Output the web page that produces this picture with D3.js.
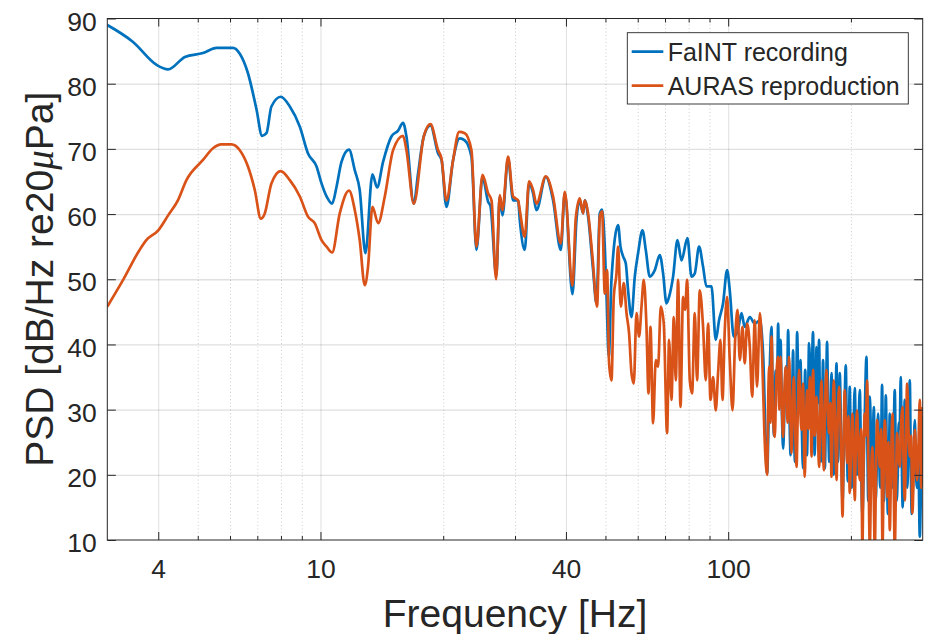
<!DOCTYPE html>
<html>
<head>
<meta charset="utf-8">
<script src="https://cdn.jsdelivr.net/npm/d3@7"></script>
<style>
  body { margin: 0; background: #fff; }
  text { font-family: "Liberation Sans", Arial, sans-serif; fill: #262626; }
</style>
</head>
<body>
<svg id="chart" width="928" height="634"></svg>
<script>
// FaINT recording (blue), below ~122 Hz
const faintHzLow = [
  3.00, 3.47, 3.96, 4.23, 4.65, 5.15, 5.56, 6.10, 6.34, 6.64, 6.97, 7.19, 7.37, 7.58, 7.99, 8.41, 8.90, 9.32, 9.78,
  10.06, 10.35, 10.68, 10.95, 11.26, 11.75, 12.14, 12.48, 12.89, 13.41, 13.77, 14.24, 14.93, 15.50, 15.94, 16.25,
  16.94, 17.35, 17.92, 18.61, 19.43, 19.81, 20.37, 21.15, 21.96, 22.59, 23.46, 24.13, 24.97, 25.77, 26.12, 26.99,
  27.53, 27.95, 28.85, 29.68, 30.53, 30.82, 31.70, 32.48, 33.22, 33.87, 35.70, 37.20, 38.85, 39.74, 41.51, 42.45,
  43.25, 44.07, 44.49, 45.33, 46.63, 47.53, 48.43, 49.06, 49.81, 50.29, 50.95, 51.73, 53.70, 54.43, 55.24, 56.09,
  56.82, 57.92, 59.01, 60.12, 61.63, 62.79, 64.23, 66.07, 67.96, 69.24, 70.58, 71.62, 73.26, 75.10, 76.82, 79.46,
  81.28, 82.81, 84.84, 86.78, 88.46, 91.00, 93.23, 94.98, 97.15, 99.38, 100.9, 103.2, 105.7, 107.8, 109.8, 113.0,
  116.2, 119.6, 121.8
]
const faintDbLow = [
  89.0, 86.4, 82.9, 82.2, 84.1, 84.7, 85.5, 85.5, 84.6, 81.6, 76.0, 72.0, 72.4, 76.5, 78.0, 76.5, 73.4, 69.3, 67.3,
  64.7, 62.7, 61.6, 64.2, 68.0, 69.9, 66.7, 63.7, 54.0, 66.1, 64.1, 68.0, 71.9, 72.8, 74.0, 71.9,
  61.6, 66.2, 71.9, 73.6, 69.3, 68.3, 61.1, 68.3, 71.6, 71.3, 68.8, 54.5, 65.7, 61.9, 61.2, 50.5,
  62.7, 59.8, 68.5, 62.1, 62.1, 59.1, 54.5, 64.7, 63.2, 60.6, 65.7, 62.1, 54.5, 63.2, 47.7, 59.1,
  62.1, 60.1, 62.1, 59.6, 51.4, 46.3, 60.1, 60.7, 55.0, 47.8, 38.1, 49.9, 58.3, 55.0, 53.5, 52.4,
  48.3, 44.2, 50.4, 54.0, 57.5, 54.5, 50.4, 51.4, 53.7, 50.9, 46.3, 47.3, 50.4, 56.0, 52.9, 56.3,
  50.4, 50.9, 55.0, 51.9, 48.9, 48.9, 40.7, 43.7, 46.3, 51.4, 48.3, 41.2, 42.2, 44.8, 42.7, 44.2,
  43.2, 43.7, 38.6
]
// FaINT recording (blue), ~125 Hz and up
const faintHzHigh = [
  124.6, 125.8, 126.7, 127.7, 128.6, 129.6, 130.8, 131.8, 132.6, 133.5,
  134.4, 135.4, 136.4, 137.4, 138.5, 139.4, 140.3, 141.3, 142.3, 143.3,
  144.3, 145.0, 145.9, 146.8, 147.6, 149.0, 150.4, 151.5, 152.6, 153.6,
  154.5, 155.3, 156.0, 157.0, 157.9, 159.6, 161.5, 162.3, 163.0, 163.8,
  164.7, 165.9, 167.1, 168.0, 169.0, 170.0, 170.9, 171.7, 172.6, 173.7,
  174.8, 175.9, 177.0, 178.1, 179.2, 180.4, 181.6, 183.0, 184.4, 185.2,
  186.0, 186.9, 187.8, 189.3, 190.8, 192.5, 194.3, 195.4, 196.6, 197.6,
  198.7, 199.8, 201.0, 202.7, 204.4, 205.7, 207.0, 208.6, 210.3, 211.8,
  213.4, 215.9, 218.4, 219.5, 220.6, 221.5, 222.5, 224.0, 225.5, 226.5,
  227.6, 228.8, 230.0, 231.6, 233.2, 234.6, 236.0, 237.2, 238.5, 239.7,
  241.0, 242.3, 243.6, 245.0, 246.5, 247.8, 249.1, 250.8, 252.5, 254.3,
  256.2, 257.6, 259.0, 260.5, 262.0, 263.5, 265.0, 266.5, 268.0, 269.5,
  271.1, 273.0, 275.0, 277.0, 278.9, 280.5, 282.0, 284.5, 286.9, 288.7,
  290.6, 292.8, 295.1, 297.5, 300.0
]
const faintDbHigh = [
  20.2, 30, 38, 42.7, 32, 26, 36, 34, 43.2, 33,
  40.7, 30, 24, 30, 36.6, 33, 42.2, 30, 23, 29,
  39.1, 28, 22, 30, 41.9, 31, 37.6, 28, 21, 28,
  36.1, 28, 23, 31, 40.2, 31, 41.9, 30, 23, 30,
  39.6, 31, 40.7, 29, 22, 29, 37.6, 28, 21, 30,
  40.4, 29, 22, 28, 35.6, 26, 20, 28, 37.1, 27,
  22, 27, 35.6, 25, 16, 27, 36.8, 26, 19, 25,
  33.5, 24, 18, 25, 33.3, 25, 20, 26, 33, 22,
  14, 27, 38.1, 25, 16, 23, 32, 26, 20, 25,
  30.4, 22, 16, 22, 29.4, 23, 18, 24, 33.8, 23,
  16, 23, 32.2, 22, 14, 20, 29.4, 22, 18, 24,
  33, 23, 16, 20, 28, 27, 35, 23, 15, 22,
  31.5, 23, 18, 25, 34.5, 22, 14, 20, 28.4, 21,
  18, 22, 10.5, 20, 29
]

// AURAS reproduction (orange), below ~123 Hz
const aurasHzLow = [
  3.00, 3.28, 3.60, 3.74, 4.00, 4.23, 4.47, 4.69, 5.15, 5.45, 5.71, 6.05, 6.34, 6.64, 6.90, 7.14, 7.30, 7.58, 7.99,
  8.41, 8.90, 9.32, 9.68, 10.06, 10.35, 10.68, 11.15, 11.75, 12.14, 12.48, 12.84, 13.08, 13.41, 13.85, 14.38,
  15.07, 15.94, 16.25, 16.94, 17.92, 18.61, 19.43, 19.81, 20.37, 21.15, 21.88, 22.59, 23.46, 24.13, 24.97, 25.77,
  26.27, 26.96, 27.53, 27.95, 28.85, 29.68, 30.53, 30.82, 31.70, 32.48, 33.22, 33.87, 35.70, 37.20, 38.85, 39.74,
  41.51, 42.28, 43.25, 44.07, 44.49, 45.33, 46.46, 47.69, 48.43, 49.06, 49.81, 50.46, 51.04, 51.73, 52.41, 53.22,
  53.70, 54.52, 55.46, 56.31, 57.14, 57.92, 58.68, 59.58, 60.46, 61.29, 62.09, 63.04, 63.76, 64.48, 65.43, 66.44,
  67.31, 68.34, 69.51, 70.82, 71.62, 72.60, 73.55, 74.38, 75.36, 76.39, 77.51, 78.40, 79.29, 80.51, 81.56, 82.81,
  83.89, 85.18, 86.78, 88.11, 89.27, 90.49, 91.83, 93.23, 94.45, 95.74, 96.83, 98.10, 99.38, 100.9, 102.5, 104.0,
  105.4, 106.8, 108.4, 109.8, 111.3, 113.0, 114.5, 116.2, 117.7, 119.6, 121.1, 122.7
]
const aurasDbLow = [
  45.8, 49.9, 54.5, 56.0, 57.5, 59.8, 62.1, 65.2, 68.3, 70.1, 70.7, 70.7, 69.8, 67.3, 63.7, 59.3, 60.1, 64.7, 66.6,
  65.2, 62.7, 59.6, 58.6, 56.0, 55.0, 54.1, 60.1, 63.6, 60.6, 56.0, 49.1, 51.9, 61.1, 58.6, 62.7,
  69.8, 72.0, 69.8, 61.6, 71.9, 73.8, 69.8, 68.5, 62.1, 68.3, 72.6, 72.4, 69.8, 55.0, 66.0, 63.2,
  62.1, 50.0, 62.9, 60.6, 68.8, 62.7, 62.1, 60.6, 56.5, 65.0, 63.7, 61.6, 65.8, 62.7, 55.5, 63.4,
  49.0, 59.3, 62.4, 60.1, 62.1, 60.1, 53.5, 45.8, 59.6, 60.4, 47.8, 51.4, 37.1, 34.5, 47.3, 50.9,
  55.0, 45.8, 49.4, 44.8, 41.7, 35.6, 34.0, 44.8, 41.2, 45.8, 49.9, 42.7, 32.5, 42.7, 27.9, 37.6,
  36.6, 45.8, 43.2, 26.4, 40.7, 31.5, 44.2, 34.5, 49.9, 30.4, 47.3, 45.3, 49.9, 34.5, 32.5, 44.8,
  34.5, 48.3, 42.7, 34.5, 43.2, 31.5, 35.0, 29.9, 35.6, 40.7, 31.5, 42.2, 47.3, 37.6, 29.9, 40.7,
  45.3, 37.6, 42.7, 37.1, 43.2, 39.6, 32.0, 43.7, 33.5, 44.8, 38.6, 26.4
]
// AURAS reproduction (orange), ~125 Hz and up
const aurasHzHigh = [
  124.6, 125.5, 126.1, 127.0, 127.7, 128.8, 130.1, 131.3, 132.6, 133.4,
  134.4, 135.4, 136.4, 137.4, 138.5, 139.8, 141.1, 142.0, 143.0, 144.0,
  144.9, 146.0, 147.1, 148.2, 149.3, 150.3, 151.3, 152.6, 154.1, 155.2,
  156.2, 157.4, 158.6, 159.4, 160.1, 160.8, 161.5, 163.0, 164.7, 165.9,
  167.1, 168.3, 169.4, 170.5, 171.6, 172.9, 174.2, 175.5, 176.8, 178.0,
  179.2, 180.4, 181.6, 183.0, 184.4, 185.7, 187.1, 189.0, 190.8, 192.0,
  193.2, 194.5, 195.8, 197.2, 198.7, 200.2, 201.7, 203.0, 204.4, 205.7,
  207.0, 208.6, 210.3, 211.8, 213.4, 214.8, 216.2, 217.6, 219.1, 220.8,
  222.5, 224.2, 225.9, 227.4, 228.9, 230.4, 231.9, 233.7, 235.5, 237.3,
  239.1, 240.6, 242.2, 243.8, 245.4, 247.2, 249.1, 251.0, 252.9, 254.5,
  256.2, 257.9, 259.6, 261.6, 263.6, 265.6, 267.6, 269.3, 271.1, 272.9,
  274.7, 276.8, 278.9, 281.0, 283.1, 285.0, 286.9, 288.7, 290.6, 292.8,
  295.1, 297.5, 300.0
]
const aurasDbHigh = [
  20.0, 33, 36.6, 28, 41.2, 30, 25.8, 35, 38.1, 30,
  38.1, 31, 25.8, 33, 36.6, 28, 38.1, 30, 23.3, 31,
  35.0, 27, 21.2, 30, 36.1, 30, 26.9, 34, 19.7, 28,
  33.0, 27, 35.0, 29, 22.8, 31, 36.1, 26, 32.0, 27,
  21.2, 30, 34.5, 27, 20.7, 31, 36.1, 30, 26.4, 31,
  19.7, 28, 34.5, 27, 19.2, 29, 33.5, 25, 13.6, 26,
  33.0, 27, 21.8, 29, 17.2, 24, 29.4, 24, 16.1, 25,
  29.9, 24, 19.2, 27, 9.0, 22, 29.4, 26, 34.5, 22,
  9.0, 20, 24.3, 18, 8.5, 20, 28.4, 25, 21.2, 27,
  9.0, 20, 28.4, 24, 16.6, 25, 11.5, 22, 29.4, 20,
  8.5, 18, 26.4, 23, 21.2, 28, 30.4, 22, 16.1, 24,
  34.0, 27, 22.8, 26, 14.1, 20, 26.9, 24, 19.2, 24,
  31.5, 18, 30.4
]

const faintHz = faintHzLow.concat(faintHzHigh)
const faintDb = faintDbLow.concat(faintDbHigh)
const aurasHz = aurasHzLow.concat(aurasHzHigh)
const aurasDb = aurasDbLow.concat(aurasDbHigh)

const seriesNames = ['FaINT recording', 'AURAS reproduction']
const seriesColors = ['#0072BD', '#D95319']
const xMajor = [4, 10, 40, 100]
const xMinor = [5, 6, 7, 8, 9, 20, 30, 50, 60, 70, 80, 90, 200]
const yTicks = [10, 20, 30, 40, 50, 60, 70, 80, 90]

const width = 928
const height = 634
const margin = { top: 18.5, right: 5.3, bottom: 94, left: 107.3 }
const innerW = width - margin.left - margin.right
const innerH = height - margin.top - margin.bottom

const svg = d3.select('#chart')

const x = d3.scaleLog().domain([3, 300]).range([margin.left, width - margin.right])
const y = d3.scaleLinear().domain([10, 90]).range([height - margin.bottom, margin.top])

// grid
const gridMinor = svg.append('g')
  .attr('transform', 'translate(0,' + y(10) + ')')
  .call(d3.axisBottom(x).tickValues(xMinor).tickSize(-innerH).tickFormat(''))
gridMinor.select('.domain').remove()
gridMinor.selectAll('line')
  .attr('stroke', '#262626')
  .attr('stroke-opacity', 0.22)
  .attr('stroke-dasharray', '1,2.5')

const gridMajorX = svg.append('g')
  .attr('transform', 'translate(0,' + y(10) + ')')
  .call(d3.axisBottom(x).tickValues(xMajor).tickSize(-innerH).tickFormat(''))
gridMajorX.select('.domain').remove()
gridMajorX.selectAll('line').attr('stroke', '#262626').attr('stroke-opacity', 0.14)

const gridY = svg.append('g')
  .attr('transform', 'translate(' + x(3) + ',0)')
  .call(d3.axisLeft(y).tickValues(yTicks.slice(1, -1)).tickSize(-innerW).tickFormat(''))
gridY.select('.domain').remove()
gridY.selectAll('line').attr('stroke', '#262626').attr('stroke-opacity', 0.14).attr('stroke-width', 1.3)

// data lines
svg.append('clipPath').attr('id', 'plot-clip')
  .append('rect')
  .attr('x', margin.left).attr('y', margin.top)
  .attr('width', innerW).attr('height', innerH)

const line = d3.line()
  .x(d => x(d[0]))
  .y(d => y(d[1]))
  .curve(d3.curveMonotoneX)

const lines = svg.append('g').attr('clip-path', 'url(#plot-clip)')
lines.append('path')
  .datum(d3.zip(faintHz, faintDb))
  .attr('fill', 'none')
  .attr('stroke', seriesColors[0])
  .attr('stroke-width', 2.7)
  .attr('stroke-linejoin', 'round')
  .attr('d', line)
lines.append('path')
  .datum(d3.zip(aurasHz, aurasDb))
  .attr('fill', 'none')
  .attr('stroke', seriesColors[1])
  .attr('stroke-width', 2.7)
  .attr('stroke-linejoin', 'round')
  .attr('d', line)

// axes (ticks point inward)
const styleAxis = g => {
  g.select('.domain').remove()
  g.selectAll('line').attr('stroke', '#262626')
  g.selectAll('text').attr('fill', '#262626').style('font-size', '26.5px').attr('font-family', null)
}

svg.append('g')
  .attr('transform', 'translate(0,' + y(10) + ')')
  .call(d3.axisBottom(x).tickValues(xMajor).tickSize(-8).tickPadding(19.3).tickFormat(d3.format('d')))
  .call(styleAxis)
svg.append('g')
  .attr('transform', 'translate(0,' + y(10) + ')')
  .call(d3.axisBottom(x).tickValues(xMinor).tickSize(-4).tickFormat(''))
  .call(styleAxis)
svg.append('g')
  .attr('transform', 'translate(0,' + y(90) + ')')
  .call(d3.axisTop(x).tickValues(xMajor).tickSize(-8).tickFormat(''))
  .call(styleAxis)
svg.append('g')
  .attr('transform', 'translate(0,' + y(90) + ')')
  .call(d3.axisTop(x).tickValues(xMinor).tickSize(-4).tickFormat(''))
  .call(styleAxis)

const yAxis = svg.append('g')
  .attr('transform', 'translate(' + x(3) + ',0)')
  .call(d3.axisLeft(y).tickValues(yTicks).tickSize(-8.5).tickPadding(10.5))
  .call(styleAxis)
yAxis.selectAll('text').attr('dy', '0.44em')
svg.append('g')
  .attr('transform', 'translate(' + x(300) + ',0)')
  .call(d3.axisRight(y).tickValues(yTicks).tickSize(-8.5).tickFormat(''))
  .call(styleAxis)

// box
svg.append('rect')
  .attr('x', margin.left).attr('y', margin.top)
  .attr('width', innerW).attr('height', innerH)
  .attr('fill', 'none')
  .attr('stroke', '#262626')
  .attr('stroke-width', 1)

// axis labels
svg.append('text')
  .attr('x', margin.left + innerW / 2)
  .attr('y', 627)
  .attr('text-anchor', 'middle')
  .style('font-size', '39px')
  .text('Frequency [Hz]')

const yLabel = svg.append('text')
  .attr('transform', 'translate(53,' + (margin.top + innerH / 2) + ') rotate(-90)')
  .attr('text-anchor', 'middle')
  .style('font-size', '39px')
yLabel.append('tspan').text('PSD [dB/Hz re20')
yLabel.append('tspan')
  .style('font-family', '"Liberation Serif", "DejaVu Serif", serif')
  .style('font-style', 'italic')
  .text('\u03bc')
yLabel.append('tspan').text('Pa]')

// legend
const legend = svg.append('g').attr('transform', 'translate(627.3,32.7)')
legend.append('rect')
  .attr('width', 281)
  .attr('height', 71.3)
  .attr('fill', '#fff')
  .attr('stroke', '#262626')
  .attr('stroke-width', 0.9)

const entry = legend.selectAll('g.entry')
  .data(seriesNames)
  .join('g')
  .attr('class', 'entry')
  .attr('transform', (d, i) => 'translate(0,' + (19 + i * 34) + ')')
entry.append('line')
  .attr('x1', 4.4).attr('x2', 36)
  .attr('stroke', (d, i) => seriesColors[i])
  .attr('stroke-width', 2.7)
entry.append('text')
  .attr('x', 40.4)
  .attr('y', 9.3)
  .style('font-size', '25px')
  .text(d => d)
</script>
</body>
</html>
